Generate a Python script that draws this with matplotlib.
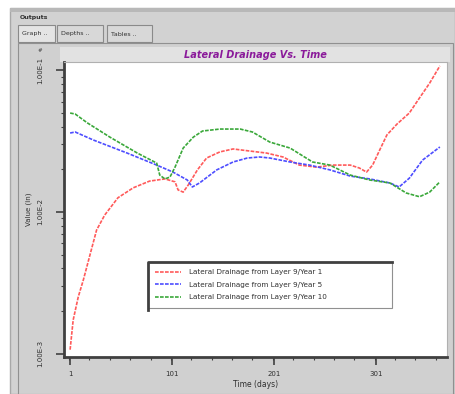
import matplotlib
matplotlib.use("Agg")
import matplotlib.pyplot as plt
import matplotlib.ticker as mticker
from matplotlib.patches import Rectangle
from matplotlib.lines import Line2D

# %% data (day, value)
red_day = [1, 4, 9, 14, 21, 27, 35, 48, 63, 79, 94, 104, 107, 112, 117, 126, 135, 148, 161,
           177, 194, 210, 226, 243, 259, 276, 285, 292, 298, 305, 312, 322, 334, 344, 354, 364]
red_val = [1.07e-3, 1.73e-3, 2.52e-3, 3.32e-3, 5.14e-3, 7.46e-3, 9.52e-3, 1.26e-2, 1.48e-2,
           1.65e-2, 1.71e-2, 1.63e-2, 1.43e-2, 1.38e-2, 1.55e-2, 1.98e-2, 2.40e-2, 2.65e-2,
           2.78e-2, 2.69e-2, 2.60e-2, 2.44e-2, 2.14e-2, 2.07e-2, 2.14e-2, 2.14e-2, 2.04e-2,
           1.91e-2, 2.14e-2, 2.74e-2, 3.49e-2, 4.17e-2, 4.98e-2, 6.36e-2, 8.10e-2, 0.107]

blue_day = [1, 6, 24, 57, 86, 102, 116, 121, 128, 145, 161, 175, 187, 197, 217, 236, 256,
            276, 295, 315, 324, 334, 347, 364]
blue_val = [3.60e-2, 3.66e-2, 3.21e-2, 2.60e-2, 2.14e-2, 1.91e-2, 1.68e-2, 1.50e-2, 1.60e-2,
            1.98e-2, 2.25e-2, 2.40e-2, 2.44e-2, 2.40e-2, 2.25e-2, 2.14e-2, 1.98e-2, 1.79e-2,
            1.71e-2, 1.60e-2, 1.50e-2, 1.73e-2, 2.32e-2, 2.87e-2]

green_day = [1, 6, 18, 40, 67, 86, 89, 94, 99, 104, 112, 122, 131, 148, 168, 180, 197, 217,
             239, 256, 276, 295, 315, 331, 344, 354, 364]
green_val = [4.98e-2, 4.90e-2, 4.24e-2, 3.37e-2, 2.60e-2, 2.21e-2, 1.82e-2, 1.71e-2, 1.76e-2,
             2.07e-2, 2.82e-2, 3.37e-2, 3.72e-2, 3.84e-2, 3.84e-2, 3.66e-2, 3.11e-2, 2.82e-2,
             2.25e-2, 2.14e-2, 1.82e-2, 1.68e-2, 1.60e-2, 1.36e-2, 1.28e-2, 1.38e-2, 1.63e-2]

labels = ["Lateral Drainage from Layer 9/Year 1",
          "Lateral Drainage from Layer 9/Year 5",
          "Lateral Drainage from Layer 9/Year 10"]
tabs = ["Graph", "Depths", "Tables"]
x_ticks = [1, 101, 201, 301]
y_ticks = [1e-3, 1e-2, 1e-1]

W, H = 455, 394


def fx(px):
    return px / W


def fy(py):
    return 1 - py / H


def box(x0, y0, x1, y1, **kw):
    # rectangle in pixel coords, y measured from the top
    return Rectangle((fx(x0), fy(y1)), fx(x1) - fx(x0), fy(y0) - fy(y1),
                     transform=fig.transFigure, zorder=-5, **kw)


# %%
fig = plt.figure(figsize=(W / 100, H / 100), dpi=100, facecolor="white")

# window chrome
fig.patches.append(box(10, 8, 455, 394, facecolor="#d2d2d2", edgecolor="#a8a8a8", lw=1))
fig.patches.append(box(10, 8, 455, 12, facecolor="#b8b8b8", edgecolor="none"))
fig.text(fx(20), fy(18), "Outputs", fontsize=4.5, fontweight="bold", color="#303030",
         va="center", ha="left")
tab_x = [(18, 55), (57, 103), (107, 152)]
for i, (name, (a, b)) in enumerate(zip(tabs, tab_x)):
    fig.patches.append(box(a, 25, b, 42, facecolor="#e4e4e4" if i == 0 else "#d8d8d8",
                           edgecolor="#8a8a8a", lw=0.8))
    fig.text(fx(a + 4), fy(34), name + " ..", fontsize=4.5, color="#303030",
             va="center", ha="left")
fig.patches.append(box(18, 43, 453, 394, facecolor="#d0d0d0", edgecolor="#909090", lw=0.8))
fig.patches.append(box(60, 47, 450, 62, facecolor="#e2e2e2", edgecolor="none"))
fig.text(fx(40), fy(51), "#", fontsize=4, color="#404040", ha="center", va="center")

# %% plot area
ax = fig.add_axes([fx(64), fy(357), fx(447) - fx(64), fy(62) - fy(357)])
ax.set_zorder(2)
ax.set_facecolor("white")

dash = (0, (2.2, 0.8))
ax.plot(red_day, red_val, color="#ff5a5a", lw=1.2, linestyle=dash, label=labels[0])
ax.plot(blue_day, blue_val, color="#4d4dff", lw=1.2, linestyle=dash, label=labels[1])
ax.plot(green_day, green_val, color="#3aa83a", lw=1.2, linestyle=dash, label=labels[2])

ax.set_yscale("log")
ax.set_xlim(-5, 371)
ax.set_ylim(9.5e-4, 0.114)

ax.set_xticks(x_ticks)
ax.xaxis.set_minor_locator(mticker.MultipleLocator(20))
ax.set_yticks(y_ticks)
ax.set_yticklabels(["1.00E-3", "1.00E-2", "1.00E-1"], rotation=90, va="center")
ax.yaxis.set_minor_locator(mticker.LogLocator(base=10, subs=range(2, 10)))
ax.yaxis.set_minor_formatter(mticker.NullFormatter())

ax.tick_params(axis="both", which="major", direction="out", length=6, width=1.2,
               colors="#404040", labelsize=5, labelcolor="#303030")
ax.tick_params(axis="both", which="minor", direction="out", length=2.5, width=0.8,
               colors="#404040")
ax.tick_params(axis="y", pad=9)
ax.tick_params(axis="x", pad=4)

for s in ["left", "bottom"]:
    ax.spines[s].set_color("#404040")
    ax.spines[s].set_linewidth(2)
for s in ["top", "right"]:
    ax.spines[s].set_color("#b0b0b0")
    ax.spines[s].set_linewidth(0.8)

ax.set_title("Lateral Drainage Vs. Time", fontsize=7, fontweight="bold", style="italic",
             color="#8a1a9a", pad=3)
ax.set_xlabel("Time (days)", fontsize=5.5, color="#303030", labelpad=2)
ax.set_ylabel("Value (in)", fontsize=5, color="#303030", labelpad=4)

leg = ax.legend(loc="upper left",
                bbox_to_anchor=(fx(148), fy(262), fx(392) - fx(148), 0.0),
                bbox_transform=fig.transFigure, mode="expand", borderaxespad=0,
                fontsize=5.2, handlelength=3.5, handletextpad=1.2, labelspacing=0.9,
                borderpad=1.0, fancybox=False, framealpha=1, edgecolor="#909090")
leg.get_frame().set_linewidth(0.8)
for t in leg.get_texts():
    t.set_color("#303030")
# darker top/left edge of the legend box
fig.lines.append(Line2D([fx(148), fx(148), fx(392)], [fy(310), fy(262), fy(262)],
                        transform=fig.transFigure, color="#404040", lw=2, zorder=10))

fig.savefig("out.png", dpi=100, facecolor="white")
